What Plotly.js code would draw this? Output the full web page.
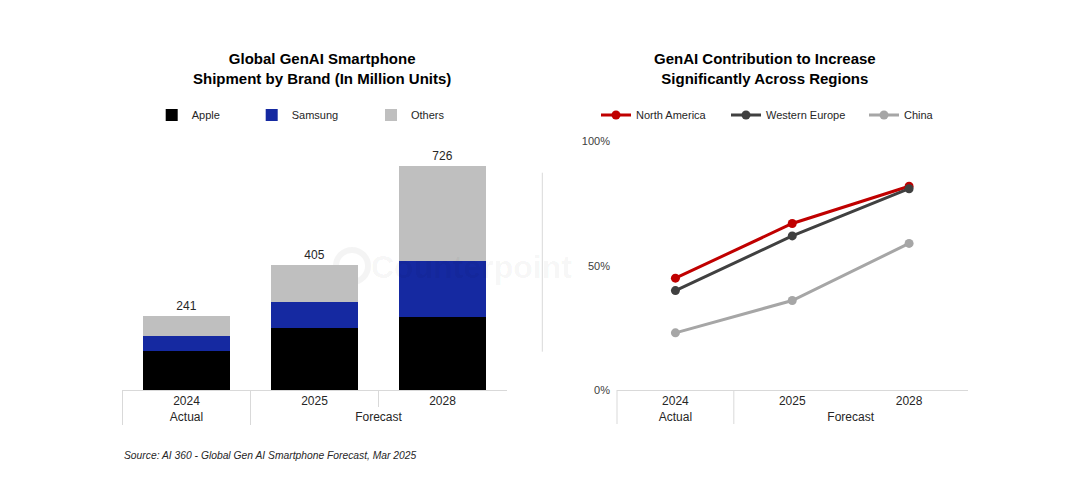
<!DOCTYPE html>
<html>
<head>
<meta charset="utf-8">
<script src="https://cdn.plot.ly/plotly-3.0.1.min.js"></script>
<style>html,body{margin:0;padding:0;background:#fff;}#chart{width:1083px;height:487px;}</style>
</head>
<body>
<div id="chart"></div>
<script>
// ---- data ----
const years = ["2024", "2025", "2028"];
const periods = ["Actual", "Forecast", "Forecast"];
const apple = [127, 201, 236];
const samsung = [48, 83, 181];
const others = [66, 121, 309];
const northAmerica = [45, 67, 82];
const westernEurope = [40, 62, 81];
const china = [23, 36, 59];
const yTicks = [0, 50, 100];
const yTickLabels = ["0%", "50%", "100%"];

const totals = years.map((_, i) => apple[i] + samsung[i] + others[i]);
const FONT = "Liberation Sans, Arial, sans-serif";
const W = 1083, H = 487;
const px = v => v / W;
const py = v => 1 - v / H;
const xcat = [periods, years];
const catRange = [-0.5, years.length - 0.5];

const traces = [
  {type: "bar", name: "Apple", x: xcat, y: apple, marker: {color: "#000000"}, xaxis: "x", yaxis: "y", legend: "legend", hoverinfo: "skip"},
  {type: "bar", name: "Samsung", x: xcat, y: samsung, marker: {color: "#1529A1"}, xaxis: "x", yaxis: "y", legend: "legend2", hoverinfo: "skip"},
  {type: "bar", name: "Others", x: xcat, y: others, marker: {color: "#BFBFBF"}, xaxis: "x", yaxis: "y", legend: "legend3",
   text: totals.map(String), textposition: "outside", cliponaxis: false, textfont: {family: FONT, size: 12, color: "#262626"}, hoverinfo: "skip"},
  {type: "scatter", mode: "lines+markers", name: "North America", x: xcat, y: northAmerica, xaxis: "x2", yaxis: "y2", legend: "legend4",
   line: {color: "#C00000", width: 3}, marker: {color: "#C00000", size: 9}},
  {type: "scatter", mode: "lines+markers", name: "Western Europe", x: xcat, y: westernEurope, xaxis: "x2", yaxis: "y2", legend: "legend5",
   line: {color: "#404040", width: 3}, marker: {color: "#404040", size: 9}},
  {type: "scatter", mode: "lines+markers", name: "China", x: xcat, y: china, xaxis: "x2", yaxis: "y2", legend: "legend6",
   line: {color: "#A6A6A6", width: 3}, marker: {color: "#A6A6A6", size: 9}}
];

function legendAt(x) {
  return {orientation: "h", x: x, xanchor: "left", y: py(115), yanchor: "middle",
    bgcolor: "rgba(0,0,0,0)", font: {family: FONT, size: 11, color: "#262626"}, itemwidth: 30, itemclick: false, itemdoubleclick: false};
}

const xAxisStyle = {
  type: "multicategory", showline: true, linecolor: "#d9d9d9", linewidth: 1,
  ticks: "", showgrid: false, zeroline: false, showdividers: false, range: catRange, autorange: false,
  tickfont: {family: FONT, size: 12, color: "#262626"}, fixedrange: true
};

const shapes = [];
function divider(xref, frac, y1px) {
  shapes.push({type: "line", xref: xref, yref: "paper", x0: frac, x1: frac, y0: py(390), y1: py(y1px),
    line: {color: "#d9d9d9", width: 1}});
}
divider("x domain", 0, 425);
divider("x domain", 1 / years.length, 425);
divider("x domain", 2 / years.length, 407);
divider("x2 domain", 0, 424);
divider("x2 domain", 1 / years.length, 424);
// separator between the two charts
shapes.push({type: "line", xref: "paper", yref: "paper", x0: px(542.3), x1: px(542.3), y0: py(172.7), y1: py(351.7),
  line: {color: "#d9d9d9", width: 1}});
// watermark logo ring
shapes.push({type: "circle", xref: "paper", yref: "paper", layer: "below", x0: px(336), x1: px(368), y0: py(282), y1: py(250),
  line: {color: "rgba(0,0,0,0.045)", width: 6}});

const layout = {
  width: W, height: H,
  margin: {l: 0, r: 0, t: 0, b: 0},
  paper_bgcolor: "#ffffff", plot_bgcolor: "rgba(0,0,0,0)",
  font: {family: FONT, color: "#262626"},
  barmode: "stack", bargap: 0.328,
  showlegend: true,
  xaxis: Object.assign({}, xAxisStyle, {domain: [px(122.5), px(506.5)], anchor: "y"}),
  yaxis: {domain: [py(390), py(142.8)], range: [0, 800], visible: false, fixedrange: true},
  xaxis2: Object.assign({}, xAxisStyle, {domain: [px(617), px(967.5)], anchor: "y2"}),
  yaxis2: {domain: [py(390), py(141.5)], range: [0, 100], tickmode: "array", tickvals: yTicks, ticktext: yTickLabels,
    showgrid: false, zeroline: false, showline: false, ticks: "", ticklabelstandoff: 6,
    tickfont: {family: FONT, size: 11, color: "#404040"}, anchor: "x2", fixedrange: true},
  legend: legendAt(px(151.7)),
  legend2: legendAt(px(251.7)),
  legend3: legendAt(px(371)),
  legend4: legendAt(px(596)),
  legend5: legendAt(px(726)),
  legend6: legendAt(px(864)),
  shapes: shapes,
  annotations: [
    {text: "<b>Global GenAI Smartphone<br>Shipment by Brand (In Million Units)</b>", xref: "paper", yref: "paper",
      x: px(321.5), y: py(68.5), xanchor: "center", yanchor: "middle", showarrow: false,
      font: {family: FONT, size: 15, color: "#000000"}},
    {text: "<b>GenAI Contribution to Increase<br>Significantly Across Regions</b>", xref: "paper", yref: "paper",
      x: px(764.7), y: py(68.5), xanchor: "center", yanchor: "middle", showarrow: false,
      font: {family: FONT, size: 15, color: "#000000"}},
    {text: "<i>Source: AI 360 - Global Gen AI Smartphone Forecast, Mar 2025</i>", xref: "paper", yref: "paper",
      x: px(122), y: py(455), xanchor: "left", yanchor: "middle", showarrow: false,
      font: {family: FONT, size: 10.3, color: "#262626"}},
    {text: "<b>Counterpoint</b>", xref: "paper", yref: "paper",
      x: px(574), y: py(266.7), xanchor: "right", yanchor: "middle", showarrow: false,
      font: {family: FONT, size: 32, color: "rgba(0,0,0,0.045)"}}
  ]
};

Plotly.newPlot("chart", traces, layout, {displayModeBar: false, staticPlot: true});
</script>
</body>
</html>
